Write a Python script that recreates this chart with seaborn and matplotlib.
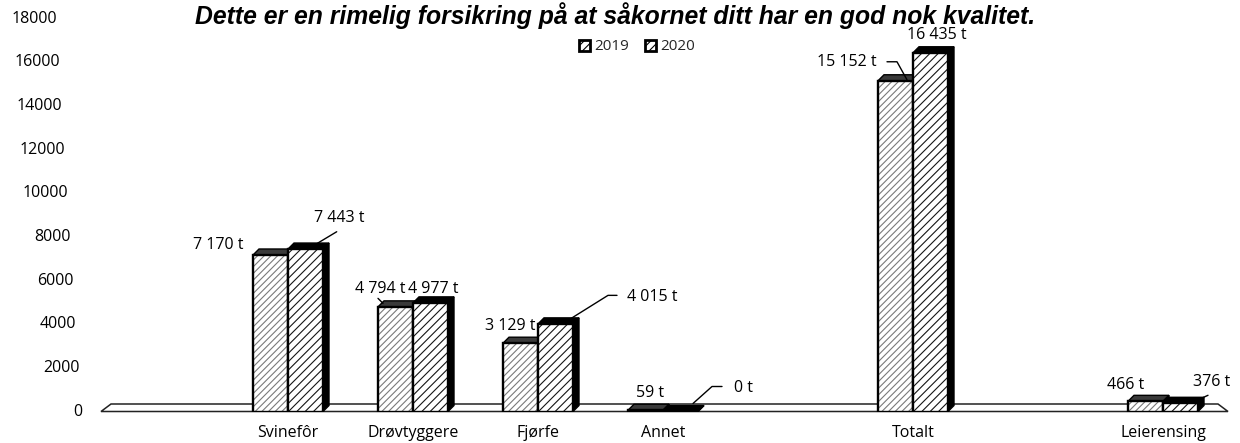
import matplotlib
matplotlib.use("Agg")
import matplotlib.pyplot as plt
import matplotlib.transforms as mtransforms
from matplotlib.patches import Polygon, Rectangle, Patch
import seaborn as sns
import pandas as pd

# ---------------- data ----------------
categories = ["Svinefôr", "Drøvtyggere", "Fjørfe", "Annet", "Totalt", "Leierensing"]
values_2019 = [7170, 4794, 3129, 59, 15152, 466]
values_2020 = [7443, 4977, 4015, 0, 16435, 376]
labels_2019 = ["7 170 t", "4 794 t", "3 129 t", "59 t", "15 152 t", "466 t"]
labels_2020 = ["7 443 t", "4 977 t", "4 015 t", "0 t", "16 435 t", "376 t"]
series = ["2019", "2020"]
y_ticks = [0, 2000, 4000, 6000, 8000, 10000, 12000, 14000, 16000, 18000]
title_text = "Dette er en rimelig forsikring på at såkornet ditt har en god nok kvalitet."

# slots (empty slots keep the original spacing)
slot_order = ["", "Svinefôr", "Drøvtyggere", "Fjørfe", "Annet", " ", "Totalt", "  ", "Leierensing"]

df = pd.DataFrame({
    "Kategori": categories * 2,
    "Tonn": values_2019 + values_2020,
    "År": [series[0]] * len(categories) + [series[1]] * len(categories),
})

# ---------------- style ----------------
sns.set_theme(style="white")
plt.rcParams["font.family"] = ["Open Sans", "DejaVu Sans"]
plt.rcParams["hatch.linewidth"] = 0.8

W, H, DPI = 1240, 443, 100
fig = plt.figure(figsize=(W / DPI, H / DPI), dpi=DPI)
fig.patch.set_facecolor("white")
ax_left, ax_right, ax_bottom_px, ax_top_px = 100.5, 1225.5, 411.5, 18.6
ax = fig.add_axes([ax_left / W, (H - ax_bottom_px) / H,
                   (ax_right - ax_left) / W, (ax_bottom_px - ax_top_px) / H])

sns.barplot(data=df, x="Kategori", y="Tonn", hue="År", order=slot_order,
            hue_order=series, width=0.56, gap=0, dodge=True,
            palette=["white", "white"], linewidth=0, legend=False, ax=ax,
            errorbar=None)

ax.set_xlim(-0.5, len(slot_order) - 0.5)
ax.set_ylim(0, 18000)
for s in ax.spines.values():
    s.set_visible(False)
ax.set_xlabel("")
ax.set_ylabel("")
ax.tick_params(axis="x", length=0, pad=10, labelsize=11.5, colors="black")
ax.set_yticks(y_ticks)
ax.set_yticklabels([])
ax.tick_params(axis="y", length=0)
ax.grid(False)

# px -> data helpers (for decorative geometry)
def px2x(px):
    return (px - ax_left) / (ax_right - ax_left) * len(slot_order) - 0.5

def dy_px(p):
    return p / (ax_bottom_px - ax_top_px) * 18000

# floor
floor = Polygon([(px2x(101), 0), (px2x(111), dy_px(7.5)), (px2x(1218), dy_px(7.5)),
                 (px2x(1228), 0)], closed=True, facecolor="white",
                edgecolor="#222222", linewidth=1.1, zorder=0.5, clip_on=False)
ax.add_patch(floor)

# y tick labels with slight perspective shift
blend = mtransforms.blended_transform_factory(ax.transAxes, ax.transData)
for v in y_ticks:
    r = 57 + (18000 - v) / 2000 * 2.8
    ax.text((r - ax_left) / (ax_right - ax_left), v, f"{v}", transform=blend,
            ha="right", va="center", fontsize=11.5, color="black", clip_on=False)

# bars styling + 3d depth
ddx = 6 / 125
ddy = dy_px(6)
hatch_cfg = {
    0: dict(hatch="/////", hcol="#7a7a7a", top="#3a3a3a", z=2),
    1: dict(hatch="////", hcol="#151515", top="#000000", z=3),
}
bars_by_series = []
for si, cont in enumerate(ax.containers[:2]):
    bars = [b for b in cont if b.get_height() == b.get_height()]
    bars = sorted(bars, key=lambda b: b.get_x())
    cfg = hatch_cfg[si]
    for b in bars:
        x0, w, h = b.get_x(), b.get_width(), b.get_height()
        b.set_hatch(cfg["hatch"])
        b.set_edgecolor(cfg["hcol"])
        b.set_facecolor("white")
        b.set_linewidth(0)
        b.set_zorder(cfg["z"])
        ax.add_patch(Rectangle((x0, 0), w, h, fill=False, edgecolor="black",
                               linewidth=1.7, zorder=cfg["z"] + 0.05))
        top = Polygon([(x0, h), (x0 + ddx, h + ddy), (x0 + w + ddx, h + ddy), (x0 + w, h)],
                      closed=True, facecolor=cfg["top"], edgecolor="black",
                      linewidth=1.0, zorder=cfg["z"] - 0.1)
        side = Polygon([(x0 + w, 0), (x0 + w, h), (x0 + w + ddx, h + ddy), (x0 + w + ddx, ddy)],
                       closed=True, facecolor="black", edgecolor="black",
                       linewidth=1.0, zorder=cfg["z"] - 0.1)
        ax.add_patch(top)
        ax.add_patch(side)
    bars_by_series.append(bars)

# data labels (pixel offsets relative to front top centre)
label_off = {
    0: [(-52.5, 10), (-15.5, 17.5), (-10.5, 17), (4.5, 17), (-48.5, 19), (-19.5, 16)],
    1: [(34, 31.5), (2.5, 13.5), (96.5, 26.5), (62.5, 24), (6.5, 18), (31.5, 21)],
}
leaders = {
    (1, 0): [(6.2, 2.3), (31.2, 17.3)],
    (0, 1): [(-17.5, 8.5), (-12.5, 3.5)],
    (1, 2): [(12.5, 3.5), (52.5, 28.5), (61.5, 28.5)],
    (1, 3): [(12.5, 8), (31.5, 25), (41.5, 25)],
    (0, 4): [(-8.5, 19), (1.5, 19), (11.5, 1)],
    (1, 5): [(16.5, 3), (27.5, 8)],
}
all_labels = [labels_2019, labels_2020]
for si in range(2):
    for ci, b in enumerate(bars_by_series[si]):
        cx = b.get_x() + b.get_width() / 2
        hy = b.get_height()
        ox, oy = label_off[si][ci]
        ax.annotate(all_labels[si][ci], xy=(cx, hy), xytext=(ox, oy),
                    textcoords="offset pixels", ha="center", va="center",
                    fontsize=11.5, color="black", zorder=6, annotation_clip=False)
        if (si, ci) in leaders:
            base = ax.transData.transform((cx, hy))
            pts = leaders[(si, ci)]
            xs = [base[0] + p[0] for p in pts]
            ys = [base[1] + p[1] for p in pts]
            line = plt.Line2D(xs, ys, color="black", linewidth=1.0,
                              transform=mtransforms.IdentityTransform(), zorder=6)
            fig.add_artist(line)

# legend
handles = [Patch(facecolor="white", edgecolor="black", hatch="////", linewidth=2.0, label=s)
           for s in series]
fig.legend(handles=handles, loc="center", bbox_to_anchor=(637 / W, 1 - 47 / H), ncol=2,
           frameon=False, handlelength=0.75, handleheight=0.75, columnspacing=1.0,
           handletextpad=0.3, fontsize=11)

# title (kept fully visible at the top)
t = fig.text(615 / W, 1 - 2 / H, title_text, ha="center", va="top",
             fontsize=16, fontweight="bold", fontstyle="italic",
             family=["Liberation Sans", "DejaVu Sans"], color="black")
fig.canvas.draw()
ext = t.get_window_extent()
t.set_fontsize(16 * 840 / ext.width)

fig.savefig("out.png", dpi=DPI, facecolor="white")
